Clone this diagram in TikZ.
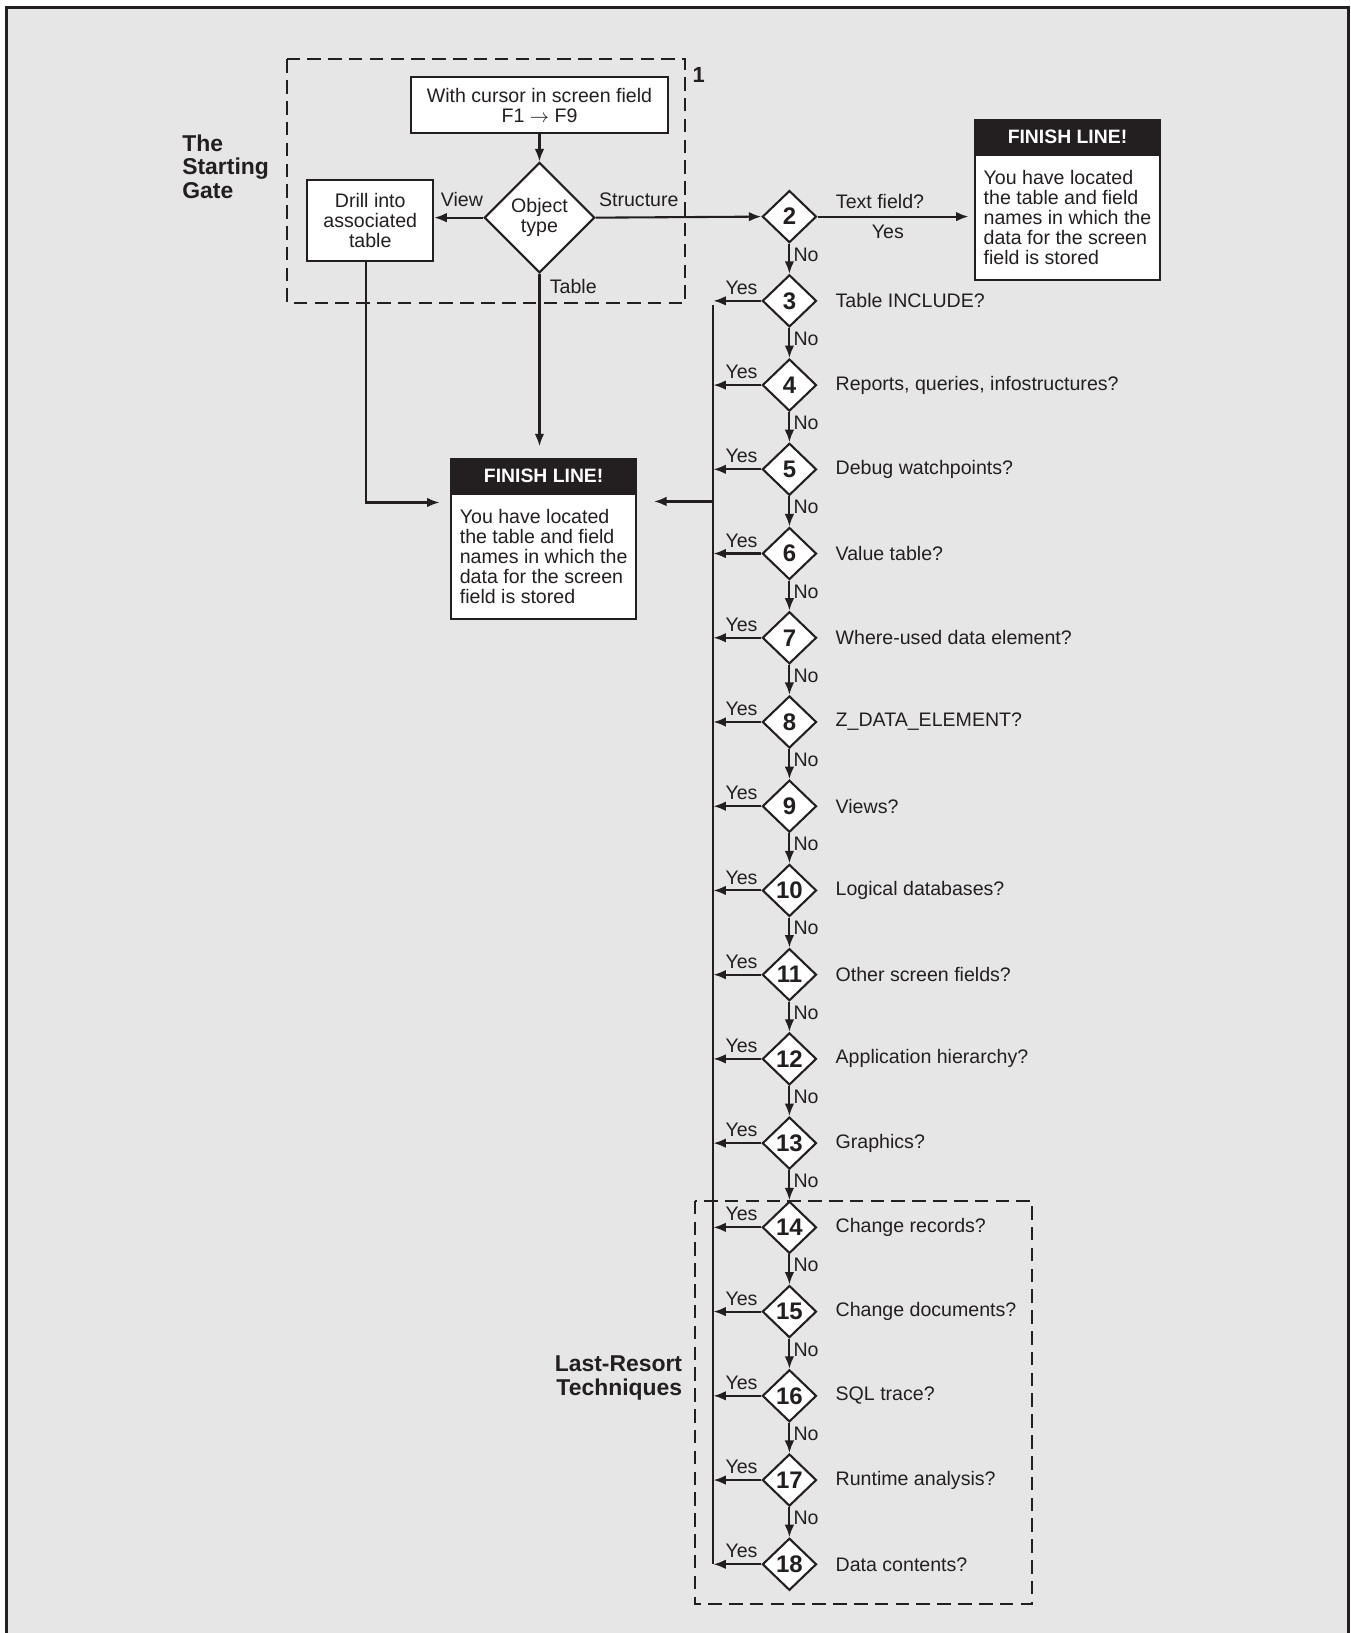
\documentclass[tikz,border=0pt]{standalone}
\usepackage{fontspec}
\setmainfont{Liberation Sans}
\usetikzlibrary{shapes.geometric,arrows.meta,positioning}
\definecolor{ink}{HTML}{231F20}
\definecolor{panelbg}{HTML}{E6E6E6}
\begin{document}
\begin{tikzpicture}[x=0.5pt,y=-0.5pt,
  txt/.style={font=\fontsize{9.4}{9.6}\selectfont, text=ink},
  bigbold/.style={font=\bfseries\fontsize{11}{11.3}\selectfont, text=ink},
  line/.style={draw=ink, line width=1pt},
  arr/.style={line, -{Latex[length=6pt,width=4.6pt]}},
  dashbox/.style={draw=ink, line width=1pt, dash pattern=on 6.5pt off 3.5pt},
  plainbox/.style={rectangle, draw=ink, fill=white, line width=1pt, txt, align=center, inner sep=2pt},
  qd/.style={diamond, draw=ink, fill=white, line width=1pt, minimum width=26pt, minimum height=25pt, inner sep=0pt, text=ink, font=\bfseries\fontsize{11.5}{12}\selectfont},
  fhead/.style={rectangle, draw=ink, fill=ink, line width=1pt, minimum width=89pt, minimum height=16pt, inner sep=0pt, text=white, font=\bfseries\fontsize{9.3}{9.6}\selectfont},
  fbody/.style={rectangle, draw=ink, fill=white, line width=1pt, minimum width=89pt, minimum height=60pt, inner sep=0pt, txt, align=left}
]
\useasboundingbox (0,0) rectangle (1297,1568);
% panel
\fill[panelbg] (6,7) rectangle (1295,1590);
\draw[ink, line width=1.3pt] (6,1590) -- (6,7) -- (1295,7) -- (1295,1590);

% dashed regions
\draw[dashbox] (276,57) rectangle (658,291);
\draw[dashbox] (667,1153) rectangle (991,1540);
\node[font=\bfseries\fontsize{10.5}{11}\selectfont, text=ink] (one) at (671,72) {1};
\node[bigbold, align=left, anchor=west] (gate) at (168,160) {The\\Starting\\Gate};
\node[bigbold, align=right, anchor=east] (last) at (662,1323) {Last-Resort\\Techniques};

% starting gate
\node[plainbox, minimum width=123pt, minimum height=27pt] (start) at (518,101) {With cursor in screen field\\F1 $\rightarrow$ F9};
\node[diamond, draw=ink, fill=white, line width=1pt, minimum width=53pt, minimum height=53pt, inner sep=0pt, txt, align=center] (obj) at (518,209) {Object\\type};
\node[plainbox, minimum width=60.5pt, minimum height=39pt] (drill) at (355.5,212) {Drill into\\associated\\table};

% finish line boxes
\node[fhead] (f1h) at (522,456.5) {FINISH LINE!};
\node[fbody, below=0pt of f1h] (f1b) {You have located\\the table and field\\names in which the\\data for the screen\\field is stored};
\node[fhead] (f2h) at (1025,131) {FINISH LINE!};
\node[fbody, below=0pt of f2h] (f2b) {You have located\\the table and field\\names in which the\\data for the screen\\field is stored};

% decision diamonds
\foreach \k in {2,...,18} {
  \pgfmathsetmacro{\yy}{208+(\k-2)*80.875}
  \node[qd] (q\k) at (758,\yy) {\k};
}
\coordinate (busx) at (685,0);

% question labels
\foreach \k/\t in {3/{Table INCLUDE?},4/{Reports, queries, infostructures?},5/{Debug watchpoints?},6/{Value table?},7/{Where-used data element?},8/{Z\_DATA\_ELEMENT?},9/{Views?},10/{Logical databases?},11/{Other screen fields?},12/{Application hierarchy?},13/{Graphics?},14/{Change records?},15/{Change documents?},16/{SQL trace?},17/{Runtime analysis?},18/{Data contents?}} {
  \node[txt, anchor=west, inner sep=0pt] (lab\k) at ([xshift=22pt]q\k.center) {\t};
}

% connectors in starting gate
\draw[arr] (start.south) -- (obj.north);
\draw[arr] (obj.west) -- (obj.west -| drill.east) node[txt, midway, above, xshift=1.5pt, yshift=1.5pt] {View};
\draw[arr] (obj.east) -- (q2.west) node[txt, pos=0.26, above, yshift=1.5pt] {Structure};
\draw[arr, shorten >=5.5pt] (obj.south) -- (obj.south |- f1h.north) node[txt, pos=0.07, right, inner sep=4.5pt] {Table};
\coordinate (f1l) at ([yshift=-4.5pt]f1b.north west);
\draw[arr, shorten >=5pt] ([xshift=-2.25pt]drill.south) |- (f1l);
\coordinate (f1r) at ([yshift=-4pt]f1b.north east);
\draw[arr, shorten >=8pt] (f1r -| busx) -- (f1r);

% 2 -> finish line
\draw[arr, shorten >=2.5pt] (q2.east) -- (q2.east -| f2b.west)
  node[txt, pos=0.4, above] {Text field?}
  node[txt, pos=0.45, below] {Yes};

% No chain
\foreach \k [count=\n from 3] in {2,...,17} {
  \draw[arr] (q\k.south) -- (q\n.north) node[txt, pos=0.36, right, inner sep=1pt, xshift=0.5pt] {No};
}
% Yes branches
\foreach \k in {3,...,18} {
  \draw[arr] (q\k.west) -- (q\k.west -| busx) node[txt, midway, above, inner sep=2.5pt, xshift=2pt] {Yes};
}
% bus
\draw[line] ([yshift=-2pt]q3.west -| busx) -- (q18.west -| busx);
\end{tikzpicture}
\end{document}
